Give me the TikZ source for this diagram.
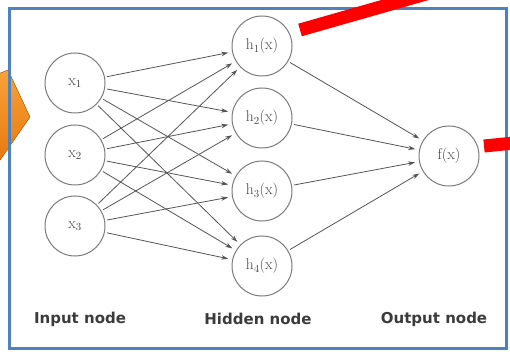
\documentclass[tikz,border=0pt]{standalone}
\usepackage{fontspec}
\newfontfamily\labfont{DejaVu Sans}
\usetikzlibrary{arrows.meta}
\definecolor{framebl}{HTML}{4F81BD}
\definecolor{nodegray}{HTML}{7A7A7A}
\definecolor{arrgray}{HTML}{555555}
\definecolor{txtgray}{HTML}{454545}
\definecolor{orangeA}{HTML}{F8A23A}
\definecolor{orangeB}{HTML}{E8780E}
\begin{document}
\begin{tikzpicture}[x=1pt,y=-1pt,
  neuron/.style={circle,draw=nodegray,line width=1pt,minimum size=60pt,inner sep=0pt,
    text=txtgray,font=\fontsize{15.5}{17}\selectfont},
  conn/.style={draw=arrgray,line width=0.8pt,shorten >=4pt,shorten <=2pt,
    -{Stealth[length=7pt,width=4.5pt]}},
  caption/.style={font=\labfont\bfseries\fontsize{15}{17}\selectfont,text=txtgray!85!black},
  redbar/.style={draw=red,line width=13pt},
]
\useasboundingbox (0,0) rectangle (510,352);
% orange wedge behind the frame
\fill[top color=orangeA,bottom color=orangeB,draw=orangeB!80!black,line width=0.4pt]
  (-2,74) -- (8,70) -- (30,117) -- (-2,163) -- cycle;
% frame
\draw[framebl,line width=3pt] (9,9) rectangle (506,348);
% nodes
\node[neuron] (x1) at (75,83) {x\textsubscript{1}};
\node[neuron] (x2) at (75,155) {x\textsubscript{2}};
\node[neuron] (x3) at (75,226) {x\textsubscript{3}};
\node[neuron] (h1) at (262,46) {h\textsubscript{1}(x)};
\node[neuron] (h2) at (262,118) {h\textsubscript{2}(x)};
\node[neuron] (h3) at (262,191) {h\textsubscript{3}(x)};
\node[neuron] (h4) at (262,266) {h\textsubscript{4}(x)};
\node[neuron] (f) at (449,156) {f(x)};
% connectors
\foreach \i in {x1,x2,x3}{
  \foreach \j in {h1,h2,h3,h4}{
    \draw[conn] (\i) -- (\j);
  }
}
\foreach \j in {h1,h2,h3,h4}{
  \draw[conn] (\j) -- (f);
}
% captions
\node[caption] (cin) at (80,319) {Input node};
\node[caption] (chid) at (258,319) {Hidden node};
\node[caption] (cout) at (434,319) {Output node};
% red bars
\coordinate (r1a) at (300,30);
\coordinate (r1b) at (440,-10);
\coordinate (r2a) at (484,146);
\coordinate (r2b) at (514,143);
\draw[redbar] (r1a) -- (r1b);
\draw[redbar] (r2a) -- (r2b);
\end{tikzpicture}
\end{document}
